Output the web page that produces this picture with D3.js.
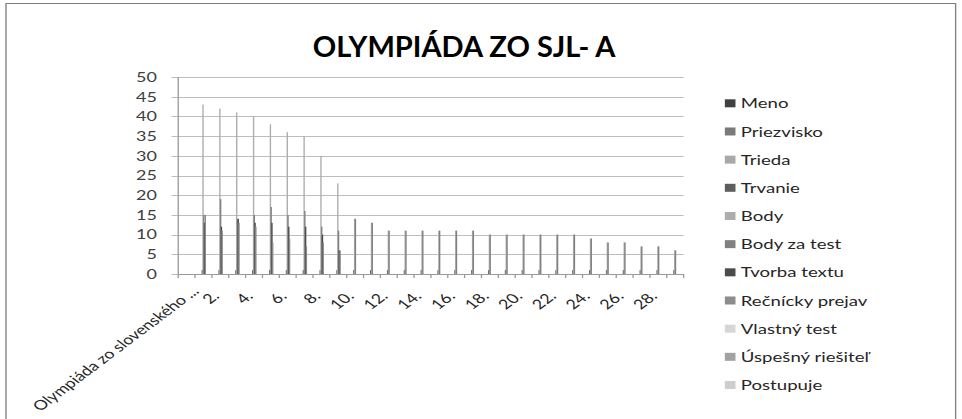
<!DOCTYPE html>
<html>
<head>
<meta charset="utf-8">
<script src="https://cdn.jsdelivr.net/npm/d3@7"></script>
<style>
  body { margin: 0; background: #fff; }
  text { font-family: Lato, "Open Sans", sans-serif; }
</style>
</head>
<body>
<svg id="chart" width="962" height="419"></svg>
<script>
// categories: the header row of the sheet, then participants 1. - 29.
var categories = ["Olympiáda zo slovenského ..."];
for (var n = 1; n <= 29; n++) categories.push(n + ".");

var seriesNames = ["Meno", "Priezvisko", "Trieda", "Trvanie", "Body", "Body za test",
                   "Tvorba textu", "Rečnícky prejav", "Vlastný test", "Úspešný riešiteľ", "Postupuje"];
var seriesColors = ["#404040", "#7a7a7a", "#a9a9a9", "#5e5e5e", "#adadad", "#808080",
                    "#4b4b4b", "#8c8c8c", "#d6d6d6", "#a2a2a2", "#cdcdcd"];

// values per category (index 0 = header row, empty); text columns have no values
var meno = [];
var priezvisko = [];
var trieda = [];
var trvanie = [0, 1,1,1,1,1,1,1,1,1, 1,1,1,1,1,1,1,1,1,1, 1,1,1,1,1,1,1,1,1,1];
var body = [0, 43,42,41,40,38,36,35,30,23, 14,13,11,11,11,11,11,11,10,10, 10,10,10,10,9,8,8,7,7,6];
var bodyZaTest = [0, 15,19,14,15,17,15,16,12,11, 14,13,11,11,11,11,11,11,10,10, 10,10,10,10,9,8,8,7,7,6];
var tvorbaTextu = [0, 13,12,14,13,13,12,12,10,6];
var recnickyPrejav = [0, 15,11,13,12,8,9,7,8,6];
var vlastnyTest = [];
var uspesnyRiesitel = [];
var postupuje = [];

var allSeries = [meno, priezvisko, trieda, trvanie, body, bodyZaTest,
                 tvorbaTextu, recnickyPrejav, vlastnyTest, uspesnyRiesitel, postupuje];

var yTicks = [0, 5, 10, 15, 20, 25, 30, 35, 40, 45, 50];

window.onload = function() {
    // the picture is stretched sideways, so draw in narrow space and scale x
    var SX = 1.33;
    var svg = d3.select("#chart");
    var g = svg.append("g").attr("transform", "scale(" + SX + ",1)");

    var plotL = 134, plotR = 514, plotT = 77, plotB = 274;

    // chart border
    g.append("rect")
        .attr("x", 4.5).attr("y", 3.5)
        .attr("width", 714).attr("height", 440)
        .attr("fill", "none").attr("stroke", "#7f7f7f").attr("stroke-width", 1);

    // title (narrow bold face in the original)
    g.append("text")
        .attr("transform", "translate(349,57) scale(0.78,1)")
        .attr("text-anchor", "middle")
        .style("font-weight", "bold").style("font-size", "28px")
        .attr("fill", "#000")
        .text("OLYMPIÁDA ZO SJL- A");

    var x = d3.scaleBand().domain(d3.range(categories.length)).range([plotL, plotR]);
    var y = d3.scaleLinear().domain([0, 50]).range([plotB, plotT]);

    var groupW = x.bandwidth() / 2;
    var x1 = d3.scaleBand().domain(d3.range(seriesNames.length)).range([0, groupW]);
    var groupOff = (x.bandwidth() - groupW) / 2;

    // gridlines
    g.append("g").selectAll("line")
        .data(yTicks)
      .enter().append("line")
        .attr("x1", plotL - 5).attr("x2", plotR)
        .attr("y1", function(d) { return Math.round(y(d)) + 0.5; })
        .attr("y2", function(d) { return Math.round(y(d)) + 0.5; })
        .attr("stroke", "#bdbdbd");

    // y labels
    g.append("g").selectAll("text")
        .data(yTicks)
      .enter().append("text")
        .attr("x", plotL - 16)
        .attr("y", function(d) { return y(d); })
        .attr("dy", "0.36em")
        .attr("text-anchor", "end")
        .style("font-size", "13.5px")
        .attr("fill", "#404040")
        .text(function(d) { return d; });

    // y axis line
    g.append("line")
        .attr("x1", plotL).attr("x2", plotL)
        .attr("y1", plotT).attr("y2", plotB)
        .attr("stroke", "#9a9a9a");

    // bars (widened a bit, they are hairlines otherwise)
    allSeries.forEach(function(vals, s) {
        g.append("g").selectAll("rect")
            .data(vals.map(function(v, i) { return {i: i, v: v}; })
                      .filter(function(d) { return d.v > 0; }))
          .enter().append("rect")
            .attr("x", function(d) { return x(d.i) + groupOff + x1(s); })
            .attr("width", x1.bandwidth() * 1.8)
            .attr("y", function(d) { return y(d.v); })
            .attr("height", function(d) { return plotB - y(d.v); })
            .attr("fill", seriesColors[s]);
    });

    // x axis line and ticks
    g.append("line")
        .attr("x1", plotL).attr("x2", plotR)
        .attr("y1", plotB + 0.5).attr("y2", plotB + 0.5)
        .attr("stroke", "#9a9a9a");
    g.append("g").selectAll("line")
        .data(d3.range(categories.length + 1))
      .enter().append("line")
        .attr("x1", function(i) { return plotL + i * x.bandwidth(); })
        .attr("x2", function(i) { return plotL + i * x.bandwidth(); })
        .attr("y1", plotB).attr("y2", plotB + 4)
        .attr("stroke", "#9a9a9a");

    // x labels, every other one, rotated
    g.append("g").selectAll("text")
        .data(d3.range(0, 29, 2))
      .enter().append("text")
        .attr("transform", function(i) {
            var cx = x(i) + x.bandwidth() / 2;
            var ly = plotB + 23;
            if (i === 0) { cx += 10; ly -= 5; }   // long label pushed inside the frame
            return "translate(" + cx + "," + ly + ") rotate(-45)";
        })
        .attr("text-anchor", "end")
        .style("font-size", "13.5px")
        .attr("fill", "#262626")
        .text(function(i) { return categories[i]; });

    // legend
    var legend = g.append("g").selectAll("g")
        .data(seriesNames)
      .enter().append("g")
        .attr("transform", function(d, i) { return "translate(545," + (103.3 + i * 28.17) + ")"; });
    legend.append("rect")
        .attr("x", 0).attr("y", -4)
        .attr("width", 8).attr("height", 8)
        .attr("fill", function(d, i) { return seriesColors[i]; });
    legend.append("text")
        .attr("x", 12).attr("dy", "0.36em")
        .style("font-size", "14px")
        .attr("fill", "#262626")
        .text(function(d) { return d; });
};
</script>
</body>
</html>
